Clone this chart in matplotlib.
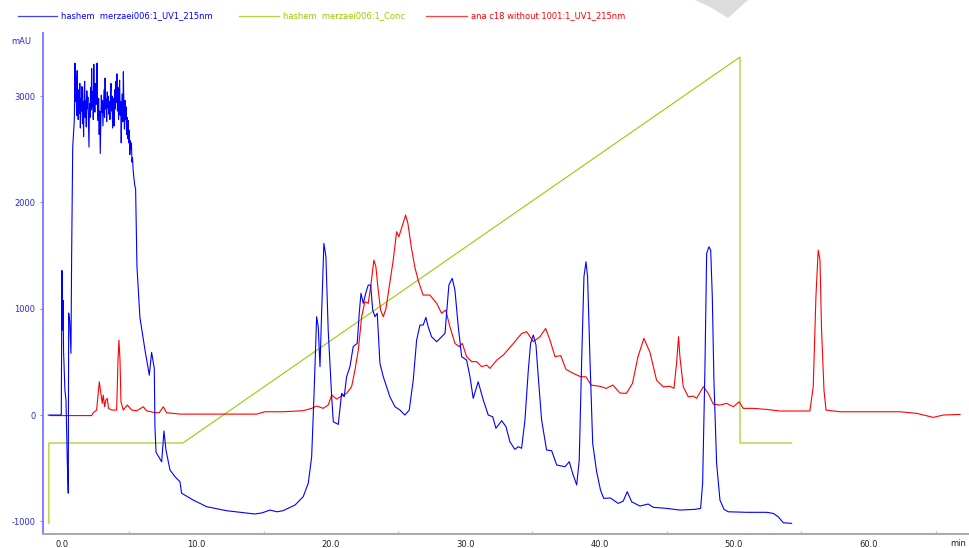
import matplotlib
matplotlib.use("Agg")
import matplotlib.pyplot as plt
from matplotlib.lines import Line2D
from matplotlib.patches import Polygon
from matplotlib.ticker import MultipleLocator, FuncFormatter

plt.rcParams['font.family'] = ['DejaVu Sans']

# UV 215 nm trace of the first run (min, mAU): injection spikes
uv1_start_time = [-1.02, -0.05, 0.00, 0.04, 0.08, 0.12, 0.22, 0.30, 0.40, 0.47, 0.50, 0.58, 0.67,
                  0.72, 0.80, 0.92]
uv1_start_mau = [0, 0, 1360, 800, 1080, 600, 235, 140, -450, -735, 960, 880, 580,
                 1490, 2520, 2775]

# saturated, noisy plateau of the unretained fraction
uv1_plateau_time = [
    0.97, 1.01, 1.05, 1.09, 1.13, 1.17, 1.21, 1.25, 1.29, 1.33, 1.37, 1.41, 1.45, 1.49, 1.53, 1.57,
    1.61, 1.65, 1.69, 1.73, 1.77, 1.81, 1.85, 1.89, 1.93, 1.97, 2.01, 2.05, 2.09, 2.13, 2.17, 2.21,
    2.25, 2.29, 2.33, 2.37, 2.41, 2.45, 2.49, 2.53, 2.57, 2.61, 2.65, 2.69, 2.73, 2.77, 2.81, 2.85,
    2.89, 2.93, 2.97, 3.01, 3.05, 3.09, 3.13, 3.17, 3.21, 3.25, 3.29, 3.33, 3.37, 3.41, 3.45, 3.49,
    3.53, 3.57, 3.61, 3.65, 3.69, 3.73, 3.77, 3.81, 3.85, 3.89, 3.93, 3.97, 4.01, 4.05, 4.09, 4.13,
    4.17, 4.21, 4.25, 4.29, 4.33, 4.37, 4.41, 4.45, 4.49, 4.53, 4.57, 4.61, 4.65, 4.69, 4.73, 4.77,
    4.81, 4.85, 4.89, 4.93, 4.97, 5.01, 5.05, 5.09, 5.13, 5.17, 5.21, 5.25, 5.29, 5.33, 5.38, 5.43,
    5.48,
]
uv1_plateau_mau = [
    3310, 2950, 3180, 2820, 3240, 2900, 2780, 3060, 2840, 3120, 2700, 2980, 2860, 3090, 2740, 2950,
    2620, 3020, 3140, 2800, 2960, 2710, 3050, 2880, 2990, 2760, 2520, 2930, 2800, 3080, 2870, 3260,
    2900, 3040, 2780, 3300, 2960, 2850, 3120, 2920, 3060, 3310, 2900, 2770, 2980, 2640, 2860, 2460,
    2750, 3010, 2850, 2960, 2720, 2900, 3060, 2800, 3170, 2880, 2980, 2760, 3040, 2890, 3000, 2830,
    2950, 2780, 3010, 3120, 2860, 3000, 2700, 2900, 2980, 2720, 3060, 2880, 3140, 2940, 3210, 2860,
    3080, 2780, 2990, 3150, 2820, 2950, 2560, 2880, 3020, 2760, 3230, 2880, 2690, 2960, 2780, 2900,
    2640, 2800, 2600, 2770, 2560, 2680, 2450, 2580, 2500, 2560, 2380, 2420, 2320, 2260, 2200, 2150,
    2130,
]

# gradient part of the run
uv1_tail_time = [
    5.58, 5.80, 6.18, 6.50,
    6.67, 6.87, 6.92, 7.00, 7.42, 7.59, 7.74, 8.04, 8.41, 8.78, 8.90, 9.77, 10.77, 12.25, 13.24, 14.36,
    14.90, 15.48, 16.00, 16.44, 17.34, 17.95, 18.33, 18.58, 18.75, 18.95, 19.07, 19.20, 19.32, 19.49,
    19.64, 19.81, 20.07, 20.19, 20.56, 20.81, 21.00, 21.18, 21.43, 21.67, 21.97, 22.12, 22.25, 22.42,
    22.60, 22.79, 22.97, 23.12, 23.29, 23.46, 23.66, 23.91, 24.40, 24.78, 25.15, 25.52, 25.84, 26.14,
    26.39, 26.64, 26.88, 27.08, 27.25, 27.50, 27.88, 28.25, 28.50, 28.62, 28.79, 29.04, 29.24, 29.49,
    29.74, 30.11, 30.36, 30.60, 30.97, 31.35, 31.72, 32.05, 32.29, 32.72, 33.04, 33.33, 33.70, 33.95,
    34.20, 34.45, 34.70, 34.87, 35.07, 35.27, 35.44, 35.69, 36.06, 36.44, 36.81, 37.43, 37.75, 38.00,
    38.30, 38.49, 38.67, 38.84, 38.99, 39.11, 39.29, 39.49, 39.78, 40.07, 40.31, 40.80, 41.39, 41.76,
    42.06, 42.39, 43.00, 43.62, 44.00, 44.99, 45.98, 47.10, 47.52, 47.67, 47.84, 47.97, 48.14, 48.27,
    48.39, 48.51, 48.71, 48.96, 49.26, 49.58, 50.94, 52.43, 52.92, 53.30, 53.67, 54.29,
]
uv1_tail_mau = [
    1400, 920, 610, 375,
    590, 440, -110, -350, -440, -150, -330, -517, -580, -627, -735, -800, -862, -900, -915, -931,
    -920, -894, -910, -900, -847, -768, -640, -392, 172, 925, 830, 455, 957, 1615,
    1490, 800, 172, -63, -88, 204, 172, 360, 455, 643, 674, 957, 1145, 1051,
    1145, 1223, 1223, 988, 925, 957, 486, 360, 172, 78, 47, 0, 47, 330,
    705, 847, 847, 919, 830, 737, 690, 737, 768, 957, 1223, 1286, 1176, 830,
    549, 517, 360, 157, 313, 141, 0, -16, -125, -53, -110, -251, -323, -298,
    -313, -47, 423, 674, 753, 659, 360, -47, -329, -336, -470, -486, -439, -549,
    -658, -423, 517, 1301, 1442, 1301, 517, -266, -530, -705, -784, -780, -831, -810,
    -721, -816, -856, -837, -868, -878, -894, -887, -878, -643, 423, 1521, 1583, 1552,
    1113, 329, -454, -800, -887, -910, -915, -915, -925, -957, -1013, -1019,
]

# Gradient (concentration) profile of the first run, drawn on the mAU scale
conc_time = [-0.97, -0.97, 9.0, 50.45, 50.45, 54.3]
conc_mau = [-1020, -263, -263, 3368, -263, -263]

# UV 215 nm trace of the C18 run (min, mAU)
uv2_time = [
    -0.89, 2.21, 2.33, 2.58, 2.78, 2.90, 3.00, 3.07, 3.18, 3.27, 3.37, 3.47, 3.70, 4.07, 4.17, 4.24,
    4.32, 4.39, 4.56, 4.86, 5.19, 5.56, 6.05, 6.30, 6.92, 7.24, 7.54, 7.79, 8.78, 10.77, 14.49, 15.10,
    16.47, 17.95, 18.58, 18.95, 19.44, 19.81, 20.07, 20.44, 20.68, 21.18, 21.55, 21.80, 22.05, 22.30,
    22.54, 22.79, 22.97, 23.21, 23.36, 23.53, 23.71, 23.91, 24.11, 24.35, 24.65, 24.90, 25.07, 25.57,
    25.74, 25.99, 26.25, 26.50, 26.87, 27.38, 27.88, 28.25, 28.55, 28.87, 29.24, 29.56, 29.79, 30.11,
    30.49, 30.86, 31.23, 31.60, 31.85, 32.35, 32.84, 33.59, 34.21, 34.58, 35.07, 35.57, 35.99, 36.31,
    36.69, 37.11, 37.50, 38.00, 38.60, 38.99, 39.37, 40.03, 40.50, 40.99, 41.52, 42.00, 42.45, 42.86,
    43.30, 43.75, 44.24, 44.74, 45.24, 45.54, 45.73, 45.88, 45.98, 46.23, 46.60, 46.97, 47.22, 47.72,
    48.09, 48.46, 48.96, 49.46, 49.95, 50.39, 50.69, 51.44, 52.43, 53.42, 55.65, 55.90, 56.10, 56.27,
    56.40, 56.52, 56.70, 56.85, 57.89, 62.35, 63.60, 64.83, 65.57, 66.82,
]
uv2_mau = [
    -5, -5, 22, 47, 313, 204, 110, 188, 78, 141, 157, 63, 47, 47, 517, 705,
    517, 125, 47, 94, 47, 40, 78, 40, 22, 22, 78, 22, 9, 9, 9, 31,
    31, 41, 63, 85, 63, 94, 188, 150, 170, 204, 266, 423, 611, 925,
    1066, 1051, 1207, 1458, 1395, 1176, 988, 925, 1003, 1207, 1458, 1724, 1677, 1881,
    1803, 1583, 1395, 1270, 1129, 1129, 1051, 957, 988, 830, 674, 643, 674, 549,
    502, 502, 455, 470, 439, 517, 564, 674, 768, 784, 690, 737, 815, 705,
    549, 560, 430, 395, 360, 360, 282, 270, 251, 282, 207, 204, 298, 549,
    721, 590, 329, 266, 270, 251, 486, 737, 549, 266, 172, 178, 157, 266,
    204, 103, 94, 110, 78, 125, 63, 63, 53, 38, 38, 266, 1113, 1552,
    1458, 800, 235, 47, 31, 31, 16, -22, 0, 6,
]

series_names = [
    "hashem  merzaei006:1_UV1_215nm",
    "hashem  merzaei006:1_Conc",
    "ana c18 without 1001:1_UV1_215nm",
]
series_colors = ["#0000ff", "#99cc00", "#ff0000"]

y_ticks = [-1000, 0, 1000, 2000, 3000]
x_ticks = [0, 10, 20, 30, 40, 50, 60]

uv1_time = uv1_start_time + uv1_plateau_time + uv1_tail_time
uv1_mau = uv1_start_mau + uv1_plateau_mau + uv1_tail_mau

W, H = 969, 548
fig = plt.figure(figsize=(W / 100, H / 100), dpi=100)
fig.patch.set_facecolor("white")

ax = fig.add_axes([43 / W, (H - 534) / H, 1 - 43 / W, (534 - 33) / H])
ax.set_xlim(-1.41, 67.49)
ax.set_ylim(-1119, 3594)

lw = 0.8
ax.plot(uv1_time, uv1_mau, color=series_colors[0], lw=lw, zorder=3)
ax.plot(conc_time, conc_mau, color=series_colors[1], lw=lw, zorder=2)
ax.plot(uv2_time, uv2_mau, color=series_colors[2], lw=lw, zorder=2.5)

for side in ("top", "right"):
    ax.spines[side].set_visible(False)
ax.spines["left"].set_color("#8080ff")
ax.spines["left"].set_linewidth(1.4)
ax.spines["bottom"].set_color("#a8a8a8")
ax.spines["bottom"].set_linewidth(1.4)

ax.set_yticks(y_ticks)
ax.yaxis.set_major_formatter(FuncFormatter(lambda v, p: f"{int(v)}"))
ax.tick_params(axis="y", colors="#8080ff", labelcolor="#2a2ad0", length=2.5, width=0.8,
               labelsize=6, pad=3)

ax.set_xticks(x_ticks)
ax.xaxis.set_major_formatter(FuncFormatter(lambda v, p: f"{v:.1f}"))
ax.xaxis.set_minor_locator(MultipleLocator(5))
ax.tick_params(axis="x", which="major", length=0, labelsize=6, labelcolor="#202020", pad=4)
ax.tick_params(axis="x", which="minor", length=2.5, width=0.8, color="#c0c0c0", direction="in")

fig.text(21 / W, 1 - 42 / H, "mAU", color="#2a2ad0", fontsize=6, ha="center", va="center")
fig.text(958 / W, 1 - 544 / H, "min", color="#202020", fontsize=6, ha="center", va="center")

# legend row
legend_y = 1 - 16 / H
line_spans = [(18, 57), (239, 279), (426, 467)]
for (x0, x1), name, col in zip(line_spans, series_names, series_colors):
    fig.add_artist(Line2D([x0 / W, x1 / W], [legend_y, legend_y], color=col, lw=0.9,
                          alpha=0.75, transform=fig.transFigure))
    fig.text((x1 + 4) / W, legend_y, name, color=col, fontsize=6, ha="left", va="center")

# faint grey mark in the top margin
fig.add_artist(Polygon([(695 / W, 1.0), (748 / W, 1.0), (728 / W, 1 - 18 / H), (712 / W, 1 - 8 / H)],
                       closed=True, facecolor="#dcdcdc", edgecolor="none",
                       transform=fig.transFigure))

fig.savefig("out.png", dpi=100, facecolor="white")
